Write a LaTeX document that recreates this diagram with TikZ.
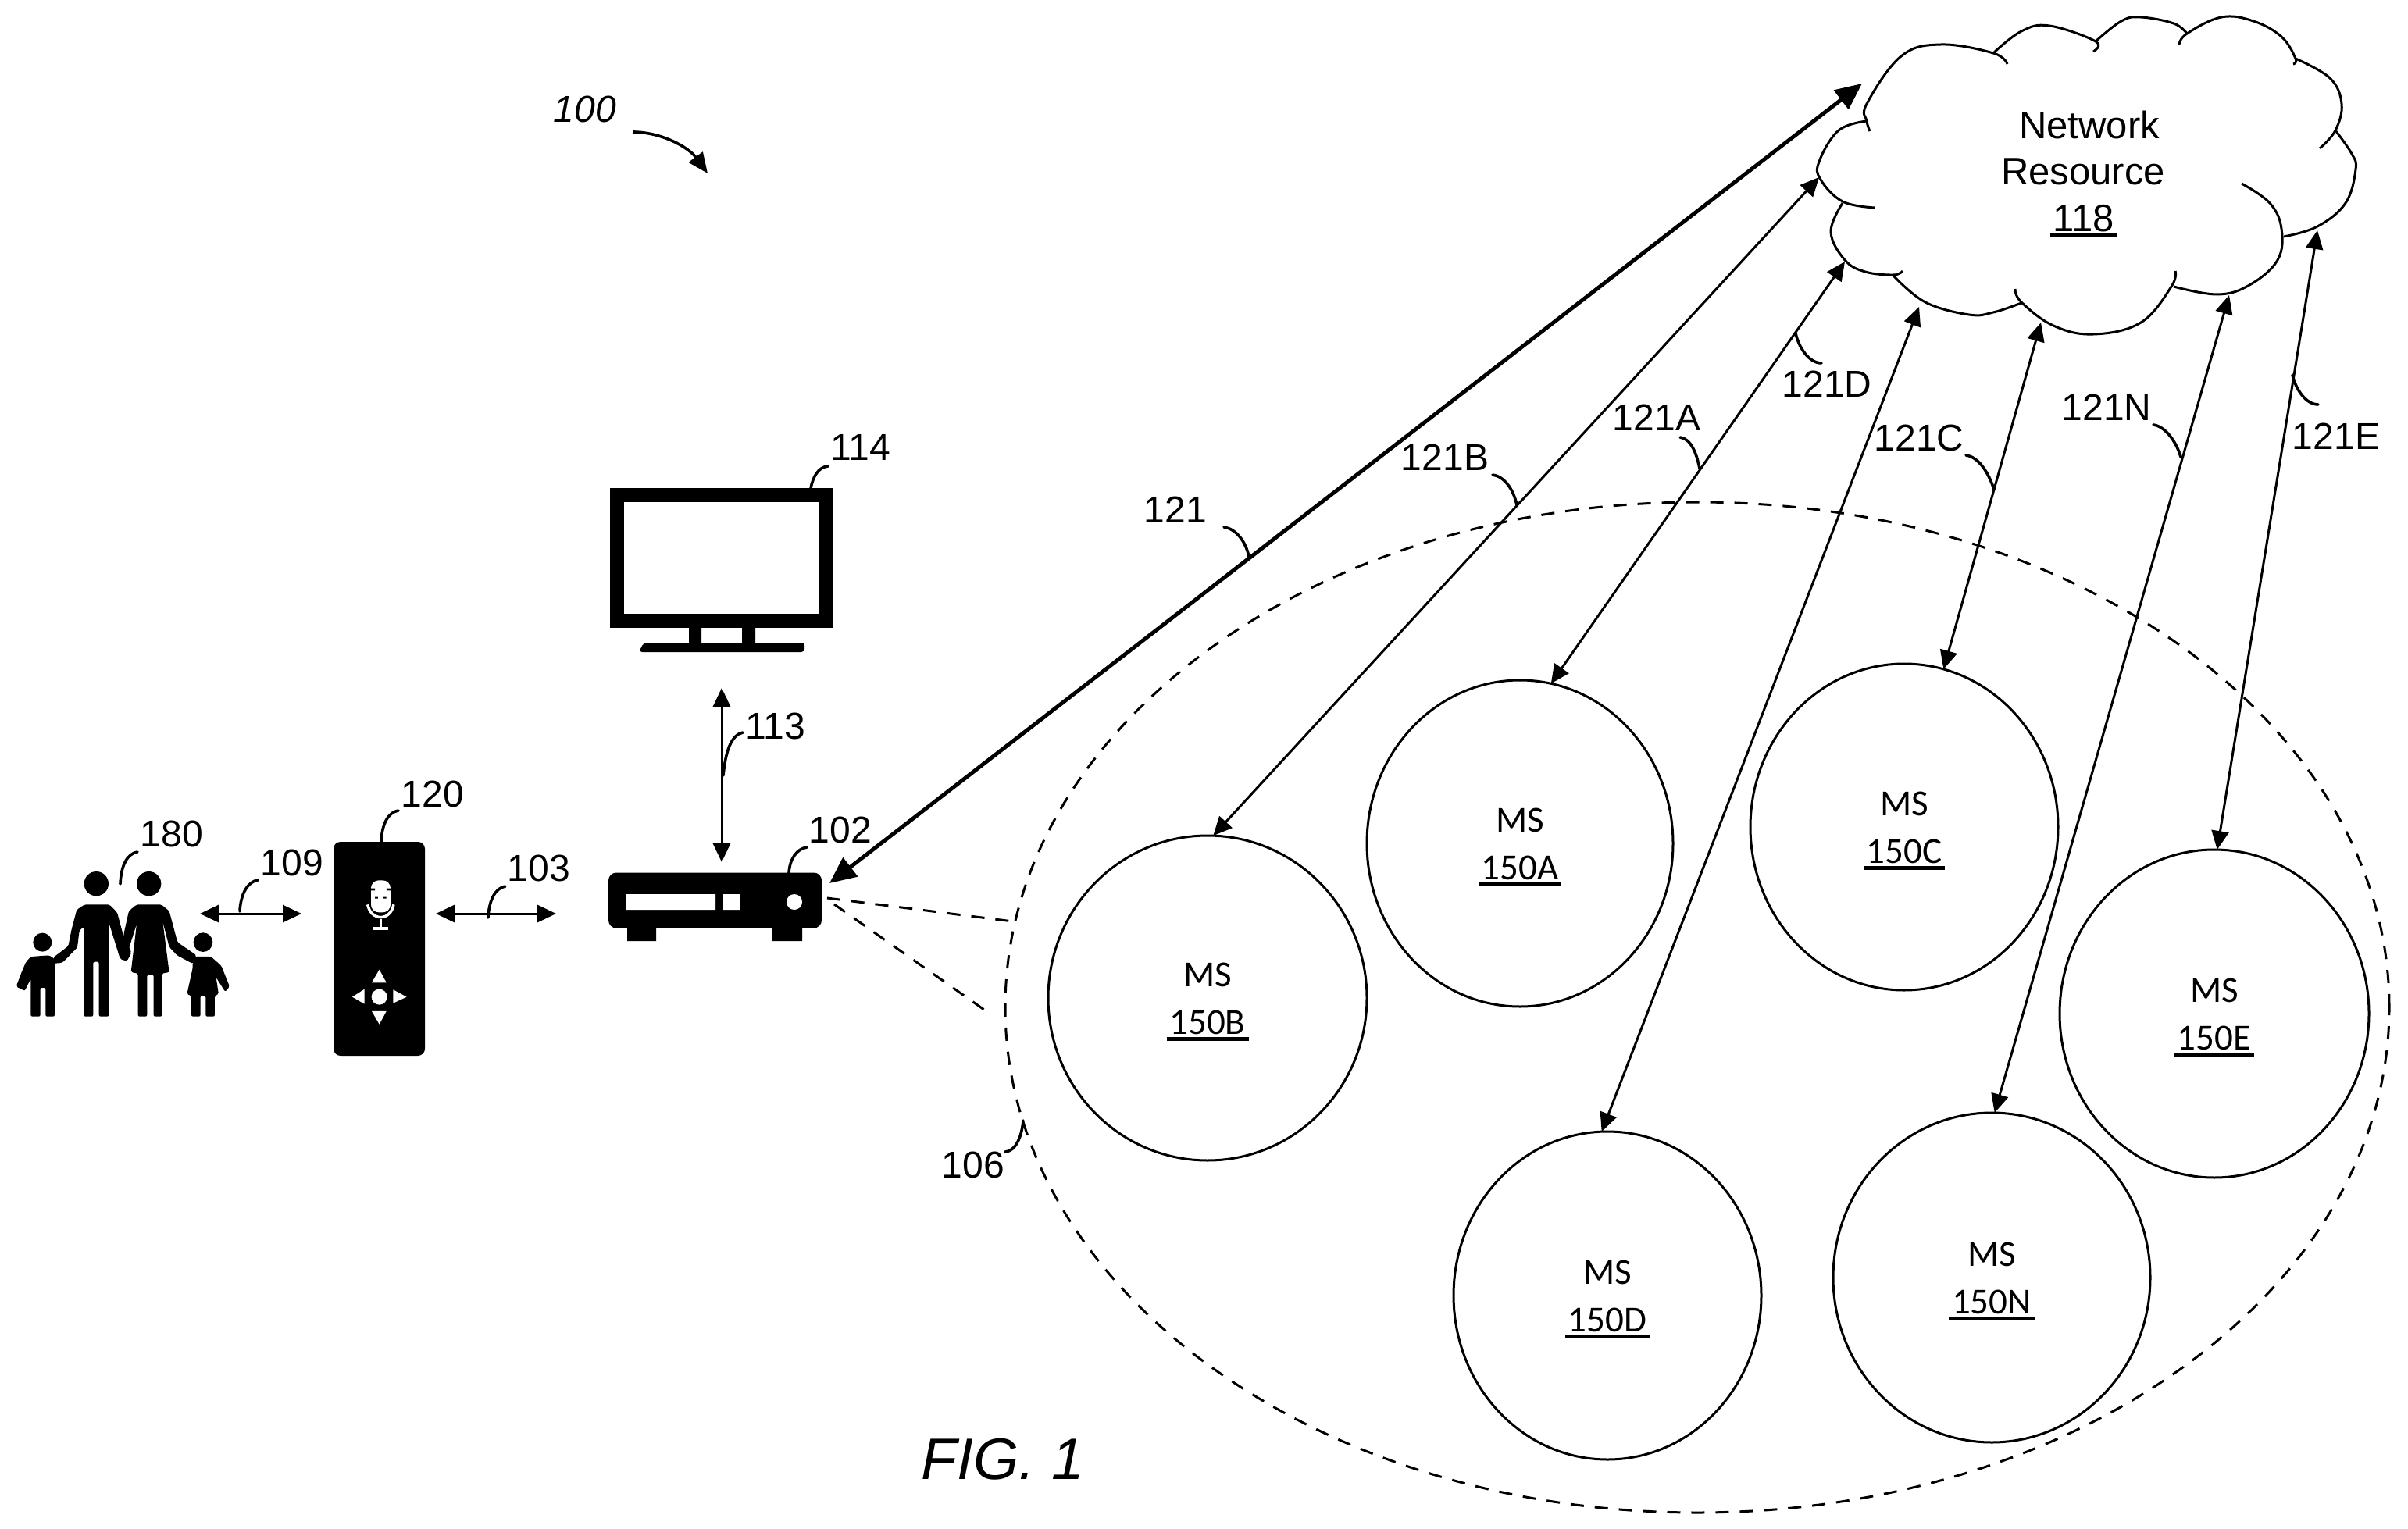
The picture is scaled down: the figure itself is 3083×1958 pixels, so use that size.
\documentclass[tikz,border=0pt]{standalone}
\usepackage{fontspec}
\setmainfont{Liberation Sans}
\newfontfamily\carlitofont{Carlito}
\usetikzlibrary{arrows.meta,shapes.geometric}
\tikzset{
  lab/.style={inner sep=0pt,outer sep=0pt,font=\fontsize{48}{50}\selectfont},
  cloudtxt/.style={inner sep=0pt,outer sep=0pt,font=\fontsize{49}{50}\selectfont},
  mstxt/.style={inner sep=0pt,outer sep=0pt,font=\carlitofont\fontsize{47}{50}\selectfont},
  msnode/.style={draw,ellipse,line width=3pt,inner sep=0pt,outer sep=0pt},
  leader/.style={line width=3.6pt,line cap=round},
  dbl/.style={line width=3pt,{Triangle[length=24pt,width=22pt]}-{Triangle[length=24pt,width=22pt]}},
  dblthick/.style={line width=5pt,{Triangle[length=34pt,width=30pt]}-{Triangle[length=34pt,width=30pt]}},
  cloudline/.style={line width=3pt,smooth,tension=0.65},
  dashline/.style={line width=3pt,dash pattern=on 17pt off 14pt},
  ulrule/.style={line width=4.5pt},
  blk/.style={fill=black,draw=none,rounded corners=2pt},
  wht/.style={fill=white,draw=none}
}
\newcommand{\ldr}[5]{\coordinate (#1s) at (#2);\coordinate (#1e) at (#5);\draw[leader] (#1s) .. controls (#3) and (#4) .. (#1e);}
\newcommand{\msc}[6]{% name, x, y, rx, ry, label
  \node[msnode,minimum width=#4*2pt,minimum height=#5*2pt] (ms#1) at (#2,#3) {};
  \node[mstxt] (mslab#1) at (#2,#3-30) {MS};
  \node[mstxt] (msnum#1) at (#2,#3+31) {#6};
  \draw[ulrule] ([yshift=-6pt,xshift=-4pt]msnum#1.south west) -- ([yshift=-6pt,xshift=4pt]msnum#1.south east);
}
\begin{document}
\begin{tikzpicture}[x=1pt,y=-1pt]
\fill[white] (0,0) rectangle (3083,1958);
\useasboundingbox (0,0) rectangle (3083,1958);

% cloud
\draw[cloudline] plot coordinates {(2394,168)(2390,155)(2390,133)(2434,72)(2485,57)(2552,68)(2570,82)};
\draw[cloudline] plot coordinates {(2552,68)(2588,40)(2624,33)(2683,53)(2680,66)};
\draw[cloudline] plot coordinates {(2683,53)(2716,27)(2741,22)(2783,30)(2800,43)};
\draw[cloudline] plot coordinates {(2790,57)(2800,43)(2844,22)(2885,27)(2921,47)(2939,75)(2936,82)};
\draw[cloudline] plot coordinates {(2939,75)(2983,100)(2998,133)(2990,167)(2970,190)};
\draw[cloudline] plot coordinates {(2990,167)(3011,197)(3016,217)(3003,260)(2967,290)(2924,303)};
\draw[cloudline] plot coordinates {(2870,235)(2906,260)(2921,293)(2916,333)(2880,365)(2839,377)(2783,367)};
\draw[cloudline] plot coordinates {(2785,347)(2780,367)(2741,413)(2680,428)(2629,417)(2588,387)(2580,370)};
\draw[cloudline] plot coordinates {(2588,388)(2552,400)(2521,403)(2465,387)(2424,353)};
\draw[cloudline] plot coordinates {(2436,347)(2424,352)(2388,348)(2362,333)(2344,297)(2359,260)};
\draw[cloudline] plot coordinates {(2400,266)(2359,258)(2331,230)(2329,207)(2354,167)(2390,155)};
\node[cloudtxt] (netA) at (2675,160) {Network};
\node[cloudtxt] (netB) at (2667,220) {Resource};
\node[cloudtxt] (netC) at (2668,280) {118};
\draw[ulrule] ([yshift=-3pt,xshift=-4pt]netC.south west) -- ([yshift=-3pt,xshift=3pt]netC.south east);

% big dashed ellipse
\node[draw,ellipse,dashline,minimum width=1772pt,minimum height=1294pt,inner sep=0pt,outer sep=0pt] (group) at (2173,1290) {};

% MS circles
\msc{A}{1946}{1080}{196}{209}{150A}
\msc{B}{1546}{1278}{204}{208}{150B}
\msc{C}{2438}{1059}{197}{209}{150C}
\msc{D}{2058}{1659}{197}{210}{150D}
\msc{E}{2835}{1298}{198}{210}{150E}
\msc{N}{2550}{1636}{203}{211}{150N}

% TV
\node[draw=black,line width=18pt,minimum width=268pt,minimum height=161pt,inner sep=0pt,outer sep=9pt] (tv) at (924,714.5) {};
\fill[black] (882,800) rectangle (898,825) (950,800) rectangle (967,825);
\fill[black,rounded corners=4pt] (818,835) -- (824,823) -- (1030,823) -- (1030,835) -- cycle;

% set-top box
\node[fill=black,rounded corners=10pt,minimum width=273pt,minimum height=71pt,inner sep=0pt,outer sep=0pt] (box) at (915.5,1153) {};
\fill[black] (803,1180) rectangle (840,1205) (989,1180) rectangle (1027,1205);
\fill[white] (802,1145) rectangle (916,1165) (926,1145) rectangle (947,1165);
\fill[white] (1017,1155) circle (10);

% remote
\node[fill=black,rounded corners=9pt,minimum width=117pt,minimum height=274pt,inner sep=0pt,outer sep=0pt] (remote) at (485.5,1215) {};
\begin{scope}[shift={(420,1070)},x=0.3333pt,y=-0.3333pt]
  \fill[white,rounded corners=10pt] (165,172) rectangle (240,295);
  \draw[white,line width=3.5pt] (152,265) .. controls (165,330) and (240,330) .. (252,265);
  \draw[white,line width=3.5pt] (202,320) -- (202,352);
  \draw[white,line width=3.5pt] (175,357) -- (230,357);
  \fill[black] (165,203) rectangle (180,211) (225,203) rectangle (240,211) (180,236) rectangle (192,242) (212,236) rectangle (224,242);
  \fill[white] (197,620) circle (30);
  \fill[white] (197,515) -- (168,565) -- (224,565) -- cycle;
  \fill[white] (168,675) -- (224,675) -- (197,725) -- cycle;
  \fill[white] (93,620) -- (140,590) -- (140,647) -- cycle;
  \fill[white] (302,620) -- (250,592) -- (250,644) -- cycle;
\end{scope}

% family
\begin{scope}[shift={(0,1080)},x=0.3333pt,y=-0.3333pt]
  \fill[black] (370,155) circle (47) (572,155) circle (47) (163,380) circle (36) (780,380) circle (37);
  \fill[blk] (325,235) -- (420,235) -- (450,265) -- (470,340) -- (505,420) -- (488,452) -- (462,445) -- (420,310) -- (418,665) -- (380,665) -- (380,455) -- (358,455) -- (358,665) -- (322,665) -- (322,320) -- (305,335) -- (297,400) -- (240,458) -- (205,462) -- (205,438) -- (262,395) -- (275,330) -- (295,255) -- cycle;
  \fill[blk] (525,235) -- (620,235) -- (650,260) -- (682,380) -- (755,430) -- (740,462) -- (680,430) -- (650,398) -- (625,300) -- (650,495) -- (622,500) -- (622,665) -- (590,665) -- (590,505) -- (565,505) -- (565,665) -- (530,665) -- (530,500) -- (503,495) -- (525,310) -- (490,420) -- (475,350) -- (495,260) -- cycle;
  \fill[blk] (120,435) -- (190,430) -- (210,445) -- (210,665) -- (175,665) -- (175,555) -- (155,555) -- (155,665) -- (118,665) -- (118,520) -- (95,567) -- (62,550) -- (85,490) -- (100,455) -- cycle;
  \fill[blk] (750,435) -- (810,435) -- (850,470) -- (882,550) -- (865,570) -- (830,515) -- (840,580) -- (825,585) -- (825,665) -- (790,665) -- (790,585) -- (770,585) -- (770,665) -- (735,665) -- (735,585) -- (718,580) -- (740,480) -- (740,460) -- cycle;
\end{scope}

% text labels
\node[lab,font=\itshape\fontsize{48}{50}\selectfont] (t100) at (749,140) {100};
\node[lab] (t114) at (1102,573) {114};
\node[lab] (t113) at (993,930) {113};
\node[lab] (t120) at (554,1017) {120};
\node[lab] (t180) at (220,1068) {180};
\node[lab] (t109) at (374,1105) {109};
\node[lab] (t103) at (690,1112) {103};
\node[lab] (t102) at (1076,1063) {102};
\node[lab] (t121) at (1505,653) {121};
\node[lab] (t121B) at (1850,586) {121B};
\node[lab] (t121A) at (2121,535) {121A};
\node[lab] (t121D) at (2339,492) {121D};
\node[lab] (t121C) at (2457,561) {121C};
\node[lab] (t121N) at (2697,522) {121N};
\node[lab] (t121E) at (2991,559) {121E};
\node[lab] (t106) at (1246,1492) {106};
\node[inner sep=0pt,font=\itshape\fontsize{75}{77}\selectfont] (fig) at (1284,1869) {FIG. 1};

% named free ends
\coordinate (c121) at (2384,107);
\coordinate (b121) at (1062,1131);
\coordinate (cB) at (2329,227);
\coordinate (cA) at (2362,335);
\coordinate (cD) at (2457,393);
\coordinate (cC) at (2613,413);
\coordinate (cN) at (2854,378);
\coordinate (cE) at (2967,295);
\coordinate (a113t) at (924,881);
\coordinate (a113b) at (924,1104);
\coordinate (a109l) at (256,1170);
\coordinate (a109r) at (386,1170);
\coordinate (a103l) at (558,1170);
\coordinate (a103r) at (712,1170);
\coordinate (d1s) at (1059,1150);
\coordinate (d1e) at (1297,1180);
\coordinate (d2s) at (1068,1158);
\coordinate (d2e) at (1270,1300);
\coordinate (a100s) at (810,169);
\coordinate (a100e) at (906,222);

% connectors
\draw[dblthick] (b121) -- (c121);
\draw[dbl] (msB.88) -- (cB);
\draw[dbl] (msA.79) -- (cA);
\draw[dbl] (msD.92.4) -- (cD);
\draw[dbl] (msC.76.6) -- (cC);
\draw[dbl] (msN.89.5) -- (cN);
\draw[dbl] (msE.89.5) -- (cE);
\draw[dbl] (a113t) -- (a113b);
\draw[dbl] (a109l) -- (a109r);
\draw[dbl] (a103l) -- (a103r);
\draw[dashline] (d1s) -- (d1e);
\draw[dashline] (d2s) -- (d2e);
\draw[line width=3.6pt,-{Triangle[length=26pt,width=22pt]}] (a100s) .. controls (846,169) and (881,188) .. (a100e);

% leaders
\ldr{l114}{1060,597}{1048,598}{1041,610}{1038,625}
\ldr{l113}{951,938}{937,941}{929,960}{926,993}
\ldr{l180}{176,1091}{163,1093}{155,1108}{154,1132}
\ldr{l120}{510,1038}{497,1040}{489,1055}{488,1078}
\ldr{l109}{330,1127}{317,1129}{308,1145}{307,1167}
\ldr{l103}{647,1135}{634,1137}{626,1153}{625,1175}
\ldr{l102}{1033,1085}{1020,1087}{1011,1100}{1010,1118}
\ldr{l121}{1567,675}{1582,677}{1595,693}{1599,713}
\ldr{l121B}{1911,608}{1926,610}{1938,627}{1942,647}
\ldr{l121A}{2151,560}{2165,562}{2172,580}{2176,600}
\ldr{l121D}{2332,465}{2316,465}{2303,445}{2299,427}
\ldr{l121C}{2517,583}{2533,585}{2546,605}{2553,627}
\ldr{l121N}{2757,544}{2772,546}{2786,565}{2792,585}
\ldr{l121E}{2968,518}{2952,518}{2939,498}{2935,480}
\ldr{l106}{1287,1475}{1300,1474}{1308,1457}{1310,1435}
\end{tikzpicture}
\end{document}
